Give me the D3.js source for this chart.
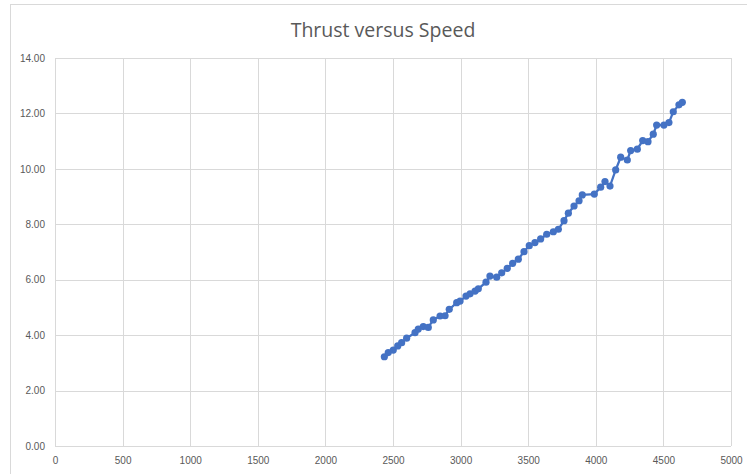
<!doctype html>
<html>
<head>
    <title>Thrust versus Speed</title>
    <script src="https://cdnjs.cloudflare.com/ajax/libs/d3/7.8.5/d3.min.js"></script>
    <style>
        body { margin: 0; background: #fff; }
        svg { display: block; font-family: "Open Sans", sans-serif; }
        .tick text { fill: #595959; font-size: 10px; }
    </style>
</head>
<body>
    <svg width="747" height="474"></svg>
    <script>
        // speed (rpm) and thrust readings, in the order they were logged
        var speed = [2436, 2465, 2502, 2535, 2564, 2601, 2663, 2687, 2724, 2761,
            2798, 2848, 2885, 2916, 2971, 2996, 3040, 3070, 3107, 3131,
            3188, 3217, 3267, 3304, 3345, 3385, 3427, 3469, 3508, 3550,
            3592, 3637, 3686, 3723, 3765, 3797, 3839, 3876, 3900, 3989,
            4036, 4068, 4105, 4147, 4184, 4233, 4258, 4307, 4347, 4386,
            4425, 4450, 4504, 4541, 4573, 4615, 4640];
        var thrust = [3.22, 3.37, 3.46, 3.61, 3.73, 3.89, 4.09, 4.22, 4.31, 4.28,
            4.55, 4.69, 4.70, 4.93, 5.17, 5.23, 5.41, 5.49, 5.59, 5.67,
            5.91, 6.13, 6.09, 6.25, 6.41, 6.59, 6.74, 7.01, 7.23, 7.34,
            7.47, 7.64, 7.73, 7.82, 8.13, 8.40, 8.66, 8.85, 9.06, 9.09,
            9.34, 9.54, 9.38, 9.96, 10.42, 10.32, 10.66, 10.71, 11.02, 10.98,
            11.25, 11.58, 11.58, 11.67, 12.06, 12.31, 12.40];
        var xTicks = [0, 500, 1000, 1500, 2000, 2500, 3000, 3500, 4000, 4500, 5000];
        var yTicks = [0, 2, 4, 6, 8, 10, 12, 14];

        var data = speed.map(function (s, i) { return { x: s, y: thrust[i] }; });

        var svg = d3.select("svg");
        var plotL = 55, plotR = 731, plotT = 58, plotB = 446;

        // chart area border
        svg.append("rect")
            .attr("x", 10.5).attr("y", 4.5)
            .attr("width", 760).attr("height", 480)
            .attr("fill", "none").attr("stroke", "#d9d9d9");

        svg.append("text")
            .attr("x", 383).attr("y", 37)
            .attr("text-anchor", "middle")
            .attr("fill", "#595959")
            .style("font-size", "19.5px")
            .text("Thrust versus Speed");

        var x = d3.scaleLinear().domain([0, 5000]).range([plotL, plotR]);
        var y = d3.scaleLinear().domain([0, 14]).range([plotB, plotT]);

        // gridlines
        svg.append("g")
            .selectAll("line")
            .data(xTicks)
            .enter().append("line")
            .attr("x1", function (d) { return Math.round(x(d)) + 0.5; })
            .attr("x2", function (d) { return Math.round(x(d)) + 0.5; })
            .attr("y1", plotT).attr("y2", plotB)
            .attr("stroke", "#d9d9d9");
        svg.append("g")
            .selectAll("line")
            .data(yTicks)
            .enter().append("line")
            .attr("y1", function (d) { return Math.round(y(d)) + 0.5; })
            .attr("y2", function (d) { return Math.round(y(d)) + 0.5; })
            .attr("x1", plotL).attr("x2", plotR)
            .attr("stroke", "#d9d9d9");

        var xAxis = svg.append("g")
            .attr("transform", "translate(0," + plotB + ")")
            .call(d3.axisBottom(x).tickValues(xTicks).tickSize(0).tickPadding(11).tickFormat(d3.format("d")));
        xAxis.select(".domain").remove();

        var yAxis = svg.append("g")
            .attr("transform", "translate(" + plotL + ",0)")
            .call(d3.axisLeft(y).tickValues(yTicks).tickSize(0).tickPadding(10).tickFormat(d3.format(".2f")));
        yAxis.select(".domain").remove();

        var line = d3.line()
            .x(function (d) { return x(d.x); })
            .y(function (d) { return y(d.y); });

        svg.append("path")
            .datum(data)
            .attr("d", line)
            .attr("fill", "none")
            .attr("stroke", "#4472c4")
            .attr("stroke-width", 2.25);

        svg.append("g")
            .selectAll("circle")
            .data(data)
            .enter().append("circle")
            .attr("cx", function (d) { return x(d.x); })
            .attr("cy", function (d) { return y(d.y); })
            .attr("r", 3.6)
            .attr("fill", "#4472c4");
    </script>
</body>
</html>
